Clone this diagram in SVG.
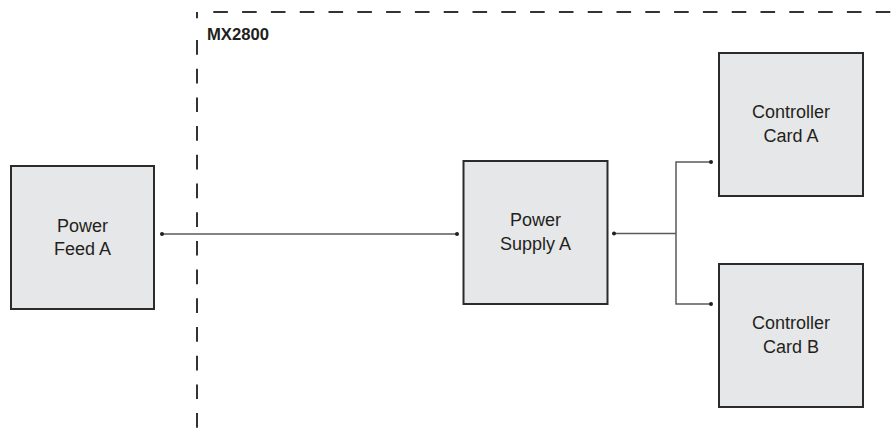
<svg xmlns="http://www.w3.org/2000/svg" width="896" height="438" viewBox="0 0 896 438">
<defs>
<style>
.box{fill:#e6e7e8;stroke:#2b2b2b;stroke-width:2}
.lbl{font-family:"Liberation Sans",Arial,sans-serif;font-size:18px;fill:#231f20;text-anchor:middle}
.title{font-family:"Liberation Sans",Arial,sans-serif;font-size:17px;font-weight:bold;fill:#231f20}
.wire{fill:none;stroke:#5a5a5a;stroke-width:1.5}
.dot{fill:#231f20}
.dash{stroke:#333;stroke-width:2;fill:none}
</style>
</defs>
<rect width="896" height="438" fill="#fff"/>
<g id="boundary">
<line class="dash" x1="197" y1="12" x2="197" y2="18.3"/>
<line class="dash" x1="197" y1="40" x2="197" y2="428" stroke-dasharray="14.7 14"/>
<line class="dash" x1="213.3" y1="12" x2="896" y2="12" stroke-dasharray="14.6 14.2"/>
<text class="title" x="207" y="40" textLength="62" lengthAdjust="spacingAndGlyphs">MX2800</text>
</g>
<g id="connectors">
<line class="wire" x1="162" y1="234" x2="457" y2="234"/>
<circle class="dot" cx="162" cy="234" r="2"/>
<circle class="dot" cx="457" cy="234" r="2"/>
<polyline class="wire" points="614,233.5 676,233.5"/>
<polyline class="wire" points="711,162 676,162 676,304 711,304"/>
<circle class="dot" cx="614" cy="233.5" r="2"/>
<circle class="dot" cx="711" cy="162" r="2"/>
<circle class="dot" cx="711" cy="304" r="2"/>
</g>
<g id="power-feed-a">
<rect class="box" x="11" y="166" width="143" height="143"/>
<text class="lbl" x="82.5" y="231.5">Power</text>
<text class="lbl" x="82.5" y="255">Feed A</text>
</g>
<g id="power-supply-a">
<rect class="box" x="463.5" y="161" width="144" height="143"/>
<text class="lbl" x="535.5" y="226">Power</text>
<text class="lbl" x="535.5" y="250">Supply A</text>
</g>
<g id="controller-card-a">
<rect class="box" x="719" y="53" width="144" height="143"/>
<text class="lbl" x="791" y="117.5">Controller</text>
<text class="lbl" x="791" y="141.5">Card A</text>
</g>
<g id="controller-card-b">
<rect class="box" x="719" y="264" width="144" height="143"/>
<text class="lbl" x="791" y="329">Controller</text>
<text class="lbl" x="791" y="352.5">Card B</text>
</g>
</svg>
